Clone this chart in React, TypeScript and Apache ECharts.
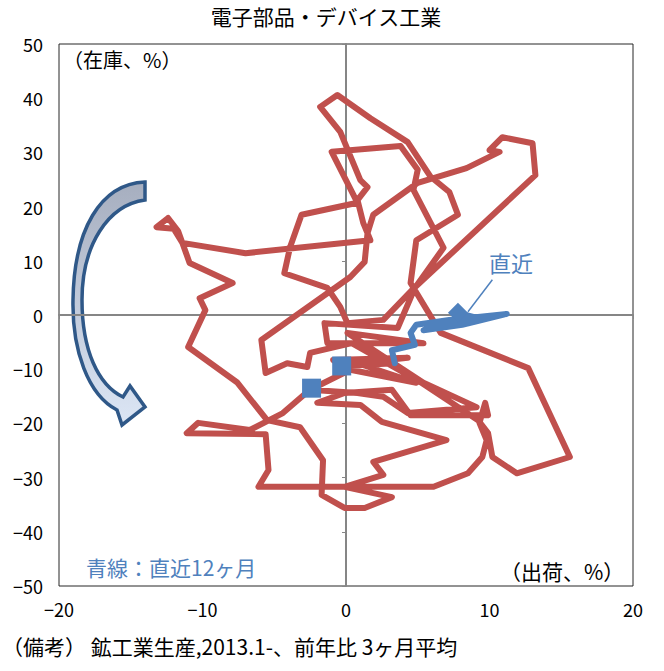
import { useEffect, useRef } from 'react'
import * as echarts from 'echarts'

// 出荷（前年比, %） / 在庫（前年比, %）  2013.1- 、3ヶ月平均
const RED_SHIPMENTS = [
  -2.4, -4.4, -6.7, -10.3, -11.1, -5.6, -5.4, -6.1, 6.1, 8.5,
  9.5, 9.8, 9.3, 9.7, 9.9, 4.5, 3.2, -0.1, -2.0, 1.0,
  2.5, 7.0, 1.9, 2.6, -0.1, 3.2, 1.3, -0.1, -1.7, -1.6,
  -3.2, -5.5, -7.6, -11.0, -9.8, -10.2, -7.9, -10.9, -11.4, -11.7,
  -12.4, -13.2, -12.0, -11.4, -7.0, 1.7, 1.2, 0.8, 1.5, 1.0,
  -0.4, -1.8, -0.6, 1.7, 4.3, 5.9, 7.2, 7.8, 4.9, 4.5,
  6.6, 12.7, 15.6, 11.9, 10.2, 9.9, 9.2, 5.2, 0.4, -2.5,
  -2.7, -4.1, -5.6, -5.9, 0.3, 1.3, 1.5, 1.9, 5.0, 8.4,
  10.7, 10.0, 10.9, 13.0, 13.2, 4.6, 2.6, 0.1, -0.4, -1.3,
  -4.3, -3.9, -3.1, 0.8, -1.0, 3.8, 5.0, 4.7, 6.8, 4.8,
  3.6, -1.5, -1.3, 5.4, 0.1, 5.4, 9.1, 4.3, 2.6, 0.8,
  -2.5, 0.3, 4.9, 0.8, 4.3, -0.9, -0.3, 3.4,
]
const RED_INVENTORY = [
  -13.5, -18.1, -21.2, -19.9, -21.8, -22.0, -28.6, -31.7, -31.7, -29.2,
  -26.2, -23.1, -19.9, -16.2, -18.5, -18.5, -13.8, -14.4, -16.2, -16.6,
  -19.7, -23.1, -27.1, -29.5, -31.7, -33.6, -35.6, -35.6, -33.2, -26.8,
  -20.7, -19.4, -12.4, -5.9, 0.9, 3.1, 5.9, 9.6, 13.3, 15.5,
  17.9, 16.2, 15.9, 13.3, 11.4, 13.8, 17.0, 21.2, 23.6, 24.9,
  33.8, 38.4, 40.6, 36.3, 31.9, 25.5, 22.7, 18.5, 13.8, 5.9,
  -3.3, -9.8, -26.2, -29.2, -26.2, -21.8, -19.4, -12.4, -5.2, -7.0,
  -9.6, -8.9, -10.7, -4.6, 7.0, 9.8, 15.1, 18.5, 24.4, 27.1,
  30.1, 30.4, 32.8, 31.7, 25.8, 4.6, -0.9, -1.5, 1.5, 5.0,
  7.7, 12.5, 18.5, 20.7, 30.1, 31.2, 26.8, 23.1, 12.4, 5.0,
  -2.4, -1.5, -5.2, -5.2, -3.3, -12.5, -17.0, -18.1, -15.1, -14.4,
  -13.8, -10.1, -12.5, -8.9, -7.9, -8.3, -9.4, -8.9,
]

// 青線：直近12ヶ月
const BLUE_SHIPMENTS = [3.4, 3.2, 4.8, 4.5, 4.9, 7.2, 11.2, 8.1, 5.4, 6.7, 9.2, 7.8]
const BLUE_INVENTORY = [-8.9, -6.5, -5.5, -3.3, -1.8, -0.9, 0.2, -1.8, -2.8, -1.3, -0.6, 0.4]

const SQUARE_POINTS = [
  [-2.4, -13.5],
  [-0.3, -9.4],
]
const LATEST_POINT = [7.8, 0.4]
const POINTER = [
  [8.5, 0.6],
  [10.2, 6.5],
]

const X_MIN = -20
const X_MAX = 20
const Y_MIN = -50
const Y_MAX = 50
const TICK_X = 10
const TICK_Y = 10

const FONT = "'Noto Sans CJK JP', 'Noto Sans', sans-serif"
const RED = '#c0504d'
const BLUE = '#4f81bd'

const ARROW_D =
  'M145 182 C100 184 74 230 73 300 C72 350 88 395 117 410 L122 425 L145 407 L130 386 L123 397 C98 385 82 350 82 300 C82 245 108 205 145 200 Z'
echarts.graphic.registerShape('cycleArrow', echarts.graphic.extendPath(ARROW_D, {}))

const zip = (xs: number[], ys: number[]) => xs.map((x, i) => [x, ys[i]])
const minus = (v: number) => String(v).replace('-', '−')

export default function App() {
  const chartRef = useRef<HTMLDivElement>(null)

  useEffect(() => {
    if (!chartRef.current) return
    document.body.style.margin = '0'
    const chart = echarts.init(chartRef.current, null, { renderer: 'svg' })

    const labelStyle = { color: '#000', fontSize: 18, fontFamily: FONT }
    const textStyle = (text: string, x: number, y: number, size: number, color = '#000', align = 'left') => ({
      type: 'text' as const,
      x,
      y,
      silent: true,
      style: { text, fill: color, fontSize: size, fontFamily: FONT, align, verticalAlign: 'middle' },
    })

    const option: echarts.EChartsOption = {
      animation: false,
      backgroundColor: '#fff',
      grid: {
        left: 59,
        right: 31,
        top: 44,
        bottom: 85,
        show: true,
        borderColor: '#262626',
        borderWidth: 1,
        backgroundColor: 'transparent',
      },
      xAxis: [
        {
          type: 'value',
          min: X_MIN,
          max: X_MAX,
          interval: TICK_X,
          position: 'bottom',
          axisLine: { show: false, onZero: false },
          axisTick: { show: false },
          splitLine: { show: false },
          axisLabel: { ...labelStyle, margin: 14, formatter: minus },
        },
        {
          type: 'value',
          min: X_MIN,
          max: X_MAX,
          interval: TICK_X,
          position: 'bottom',
          axisLine: { show: true, onZero: true, onZeroAxisIndex: 0, lineStyle: { color: '#868686', width: 2 } },
          axisTick: { show: true, length: 4, lineStyle: { color: '#868686', width: 1 } },
          splitLine: { show: false },
          axisLabel: { show: false },
        },
      ],
      yAxis: [
        {
          type: 'value',
          min: Y_MIN,
          max: Y_MAX,
          interval: TICK_Y,
          position: 'left',
          axisLine: { show: false, onZero: false },
          axisTick: { show: false },
          splitLine: { show: false },
          axisLabel: { ...labelStyle, margin: 16, formatter: minus },
        },
        {
          type: 'value',
          min: Y_MIN,
          max: Y_MAX,
          interval: TICK_Y,
          position: 'left',
          axisLine: { show: true, onZero: true, onZeroAxisIndex: 0, lineStyle: { color: '#868686', width: 2 } },
          axisTick: { show: true, length: 4, lineStyle: { color: '#868686', width: 1 } },
          splitLine: { show: false },
          axisLabel: { show: false },
        },
      ],
      series: [
        {
          type: 'line',
          data: zip(RED_SHIPMENTS, RED_INVENTORY),
          symbol: 'none',
          silent: true,
          z: 3,
          lineStyle: { color: RED, width: 6, cap: 'round', join: 'round' },
        },
        {
          type: 'scatter',
          data: SQUARE_POINTS,
          symbol: 'rect',
          symbolSize: 19,
          silent: true,
          z: 4,
          itemStyle: { color: BLUE, opacity: 1 },
        },
        {
          type: 'line',
          data: zip(BLUE_SHIPMENTS, BLUE_INVENTORY),
          symbol: 'none',
          silent: true,
          z: 5,
          lineStyle: { color: BLUE, width: 6, cap: 'round', join: 'round' },
          markLine: {
            silent: true,
            symbol: ['none', 'none'],
            label: { show: false },
            lineStyle: { color: BLUE, width: 1.5, type: 'solid' },
            data: [[{ coord: POINTER[0] }, { coord: POINTER[1] }]] as any,
          },
        },
        {
          type: 'scatter',
          data: [LATEST_POINT],
          symbol: 'diamond',
          symbolSize: 20,
          silent: true,
          z: 6,
          itemStyle: { color: BLUE, opacity: 1 },
        },
      ],
      graphic: [
        textStyle('電子部品・デバイス工業', 326, 16, 21, '#000', 'center'),
        textStyle('（在庫、%）', 63, 59, 20),
        textStyle('（出荷、%）', 500, 571, 21),
        textStyle('青線：直近12ヶ月', 86, 567, 21, BLUE),
        textStyle('直近', 511, 262, 22, BLUE, 'center'),
        textStyle('（備考） 鉱工業生産,2013.1-、前年比 3ヶ月平均', 2, 646, 21),
        {
          type: 'cycleArrow' as any,
          x: 0,
          y: 0,
          silent: true,
          style: {
            fill: new echarts.graphic.LinearGradient(0, 0, 0, 1, [
              { offset: 0, color: '#a6aebf' },
              { offset: 1, color: '#dce6f5' },
            ]),
            stroke: '#2f5888',
            lineWidth: 3.5,
          },
        } as any,
      ],
    }

    chart.setOption(option)
    return () => chart.dispose()
  }, [])

  return <div ref={chartRef} style={{ width: 664, height: 671 }} />
}
